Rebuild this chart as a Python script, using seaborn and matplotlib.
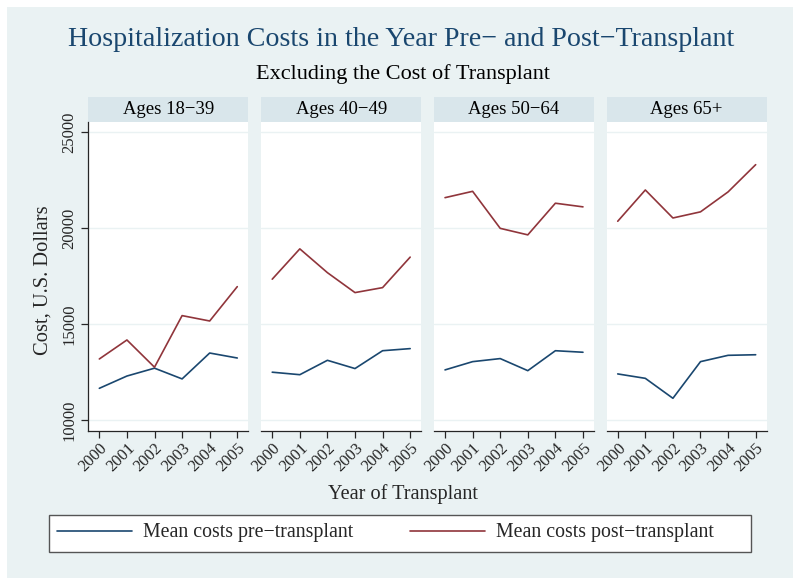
import pandas as pd
import matplotlib.pyplot as plt
import seaborn as sns
from matplotlib.patches import Rectangle

# values
years = [2000, 2001, 2002, 2003, 2004, 2005]
age_groups = ["Ages 18\u221239", "Ages 40\u221249", "Ages 50\u221264", "Ages 65+"]

pre_18_39 = [11650, 12290, 12700, 12140, 13490, 13230]
pre_40_49 = [12490, 12360, 13110, 12680, 13610, 13720]
pre_50_64 = [12610, 13040, 13200, 12570, 13610, 13530]
pre_65 = [12400, 12170, 11130, 13040, 13370, 13400]

post_18_39 = [13180, 14170, 12750, 15440, 15160, 16950]
post_40_49 = [17340, 18920, 17680, 16640, 16900, 18490]
post_50_64 = [21590, 21920, 19990, 19650, 21300, 21110]
post_65 = [20360, 21990, 20530, 20850, 21890, 23310]

pre_label = "Mean costs pre\u2212transplant"
post_label = "Mean costs post\u2212transplant"

pre_all = [pre_18_39, pre_40_49, pre_50_64, pre_65]
post_all = [post_18_39, post_40_49, post_50_64, post_65]

rows = []
for grp, pre, post in zip(age_groups, pre_all, post_all):
    for yr, a, b in zip(years, pre, post):
        rows.append({"age": grp, "year": yr, "series": pre_label, "cost": a})
        rows.append({"age": grp, "year": yr, "series": post_label, "cost": b})
df = pd.DataFrame(rows)

sns.set_style("white")
plt.rcParams["font.family"] = ["Liberation Serif", "DejaVu Serif"]

bg = "#EAF2F3"
strip_col = "#D9E6EB"
navy = "#1A476F"
palette = {pre_label: navy, post_label: "#90353B"}

W, H = 800, 586
fig = plt.figure(figsize=(8, 5.86), dpi=100)
fig.patch.set_facecolor("white")
fig.patches.append(Rectangle((7 / W, 8 / H), 786 / W, 571 / H, transform=fig.transFigure,
                             facecolor=bg, edgecolor="none", zorder=-10))

ax_bottom = (H - 430.7) / H
ax_height = (430.7 - 121.7) / H
lefts = [88.3, 261.2, 434.0, 606.7]
ax_w = 160.0

axes = []
for i, grp in enumerate(age_groups):
    ax = fig.add_axes([lefts[i] / W, ax_bottom, ax_w / W, ax_height])
    sub = df[df["age"] == grp]
    sns.lineplot(data=sub, x="year", y="cost", hue="series", palette=palette,
                 hue_order=[pre_label, post_label], linewidth=1.2, ax=ax, legend=(i == 0))
    ax.set_facecolor("white")
    ax.set_xlim(1999.6, 2005.4)
    ax.set_ylim(9440, 25550)
    ax.set_yticks([10000, 15000, 20000, 25000])
    ax.set_xticks(years)
    ax.set_xticklabels([str(y) for y in years], rotation=45, ha="right",
                       rotation_mode="anchor", fontsize=12)
    for v in [10000, 15000, 20000, 25000]:
        ax.axhline(v, color=bg, linewidth=1.0, zorder=0)
    ax.set_xlabel("")
    ax.set_ylabel("")
    ax.spines["top"].set_visible(False)
    ax.spines["right"].set_visible(False)
    ax.spines["bottom"].set_linewidth(0.9)
    ax.tick_params(axis="x", direction="out", length=5, width=0.9, pad=2, bottom=True)
    if i == 0:
        ax.spines["left"].set_linewidth(0.9)
        ax.tick_params(axis="y", direction="out", length=5, width=0.9, pad=3, left=True)
        ax.set_yticklabels(["10000", "15000", "20000", "25000"], rotation=90,
                           va="center", fontsize=12)
    else:
        ax.spines["left"].set_visible(False)
        ax.set_yticklabels([])
        ax.tick_params(axis="y", left=False)
    strip_h = 24.4 / (430.7 - 121.7)
    ax.add_patch(Rectangle((0, 1), 1, strip_h, transform=ax.transAxes, facecolor=strip_col,
                           edgecolor="none", clip_on=False))
    ax.text(0.5, 1 + strip_h / 2, grp, transform=ax.transAxes, ha="center", va="center",
            fontsize=13.5, color="black")
    axes.append(ax)

handles, labels = axes[0].get_legend_handles_labels()
axes[0].get_legend().remove()

# legend frame drawn by hand, entries placed inside it
fig.patches.append(Rectangle((49 / W, (H - 551.7) / H), 702 / W, 36.7 / H,
                             transform=fig.transFigure, facecolor="white",
                             edgecolor="#555555", linewidth=1.0, zorder=1))
leg = fig.legend(handles, labels, ncol=2, loc="center left",
                 bbox_to_anchor=(57 / W, (H - 533) / H), fontsize=14.3,
                 handlelength=3.77, handletextpad=0.55, columnspacing=2.87,
                 frameon=False, borderaxespad=0, borderpad=0)
leg.set_zorder(2)
for ln in leg.get_lines():
    ln.set_linewidth(1.2)

fig.text(401 / W, 1 - 40 / H, "Hospitalization Costs in the Year Pre\u2212 and Post\u2212Transplant",
         ha="center", va="center", fontsize=20.2, color=navy)
fig.text(403 / W, 1 - 74 / H, "Excluding the Cost of Transplant",
         ha="center", va="center", fontsize=16, color="black")
fig.text(403 / W, 1 - 494 / H, "Year of Transplant", ha="center", va="center", fontsize=14.6)
fig.text(43 / W, 1 - 280 / H, "Cost, U.S. Dollars", ha="center", va="center",
         rotation=90, fontsize=14.8)

fig.savefig("out.png", dpi=100, facecolor="white")
